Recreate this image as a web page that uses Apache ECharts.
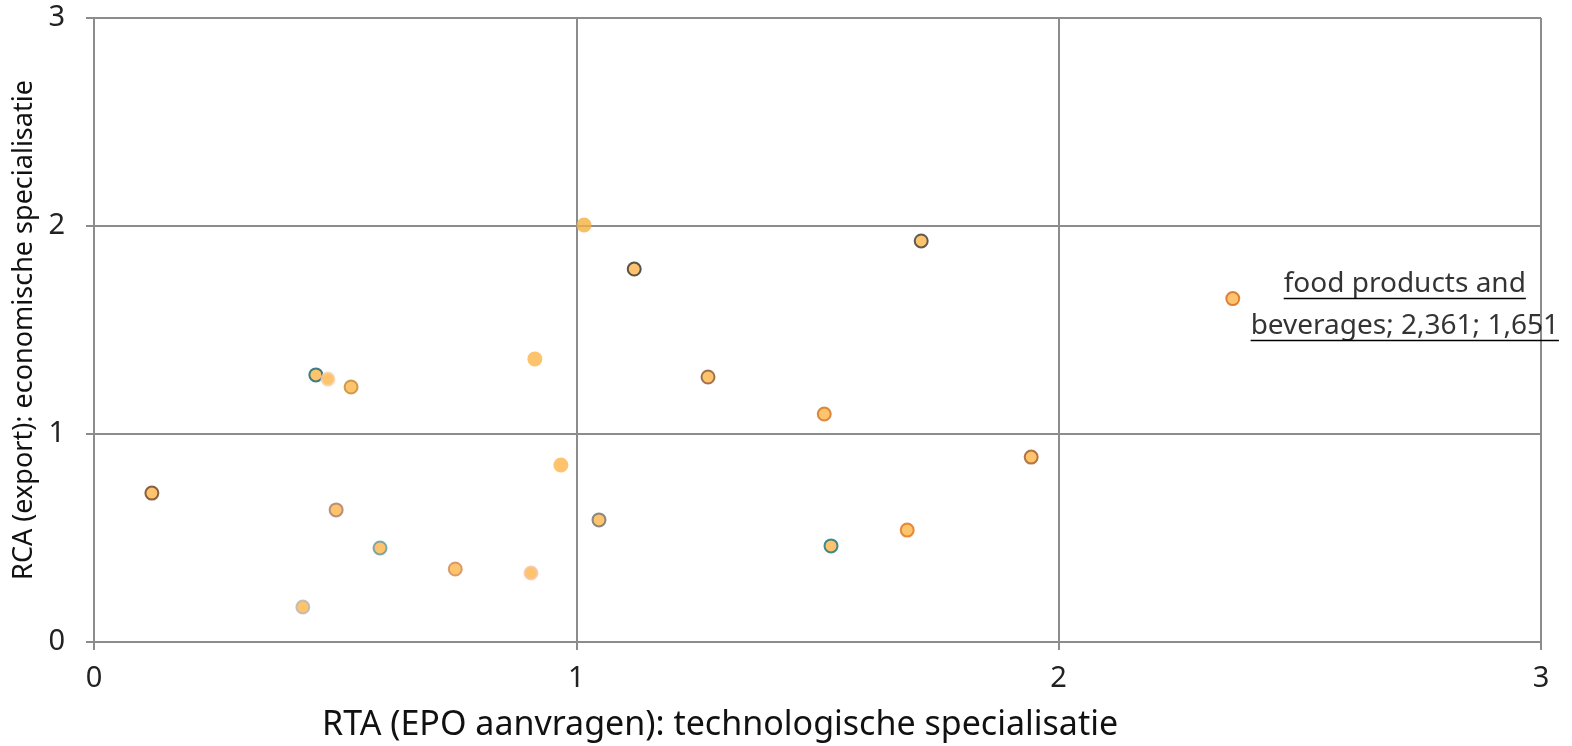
<!DOCTYPE html>
<html>
<head>
<meta charset="utf-8">
<script src="https://cdn.jsdelivr.net/npm/echarts@6/dist/echarts.min.js"></script>
<style>html,body{margin:0;padding:0;background:#fff}#c{width:1572px;height:746px}</style>
</head>
<body>
<div id="c"></div>
<script>
// Data
const xValues = [0.120, 0.460, 0.485, 0.533, 0.502, 0.593, 0.433, 0.749, 0.906, 1.016, 1.120, 0.914, 0.968, 1.047, 1.273, 1.514, 1.715, 1.528, 1.686, 1.943, 2.361];
const yValues = [0.716, 1.284, 1.264, 1.226, 0.635, 0.452, 0.168, 0.351, 0.332, 2.005, 1.793, 1.361, 0.851, 0.587, 1.274, 1.096, 1.928, 0.462, 0.538, 0.889, 1.651];
const pointNames = ['', '', '', '', '', '', '', '', '', '', '', '', '', '', '', '', '', '', '', '', 'food products and beverages'];
const axisTicks = [0, 1, 2, 3];
const xTitle = 'RTA (EPO aanvragen): technologische specialisatie';
const yTitle = 'RCA (export): economische specialisatie';

// Styles
const edgeColors = ['#6b3f22', '#0f6173', '#f9cfae', '#c28a2c', '#a77b70', '#5e97a0', '#b5b5b5', '#d08a55', '#f8c3aa', null, '#2e2e2e', null, null, '#6f6f6f', '#8a5535', '#d0711e', '#383838', '#13707c', '#e27015', '#a05a22', '#d4691a'];
const fillColors = xValues.map((v, i) => i === 9 ? '#F2B040' : '#FDB548');

const FONT = 'Noto Sans';
const LABEL_SIZE = 28;
const chart = echarts.init(document.getElementById('c'), null, {renderer: 'canvas'});

function fmt(v) { return v.toFixed(3).replace('.', ','); }

const data = xValues.map((x, i) => {
  const bordered = !!edgeColors[i];
  const d = {
    value: [x, yValues[i]],
    name: pointNames[i],
    symbolSize: bordered ? 13 : 15,
    itemStyle: {
      color: fillColors[i],
      borderColor: edgeColors[i] || fillColors[i],
      borderWidth: bordered ? 2 : 0
    }
  };
  if (pointNames[i]) {
    d.label = {
      show: true,
      position: 'inside',
      offset: [172, 6],
      align: 'center',
      verticalAlign: 'middle',
      formatter: () => 'food products and\nbeverages; ' + fmt(x) + '; ' + fmt(yValues[i]),
      fontFamily: FONT,
      fontSize: LABEL_SIZE,
      lineHeight: 42,
      color: '#000'
    };
  }
  return d;
});

const gridLine = {show: true, lineStyle: {color: '#8c8c8c', width: 2}};
chart.setOption({
  animation: false,
  backgroundColor: '#fff',
  grid: {left: 94, right: 31, top: 18, bottom: 104, containLabel: false},
  xAxis: {
    type: 'value', min: 0, max: 3, interval: 1,
    axisLine: {show: true, lineStyle: {color: '#8c8c8c', width: 2}},
    axisTick: {show: true, length: 8, lineStyle: {color: '#8c8c8c', width: 2}},
    splitLine: gridLine,
    axisLabel: {fontFamily: FONT, fontSize: 29, color: '#222', margin: 22, formatter: v => axisTicks.includes(v) ? String(v) : ''}
  },
  yAxis: {
    type: 'value', min: 0, max: 3, interval: 1,
    axisLine: {show: true, lineStyle: {color: '#8c8c8c', width: 2}},
    axisTick: {show: true, length: 8, lineStyle: {color: '#8c8c8c', width: 2}},
    splitLine: gridLine,
    axisLabel: {fontFamily: FONT, fontSize: 29, color: '#222', margin: 29, formatter: v => axisTicks.includes(v) ? String(v) : ''},
    name: yTitle,
    nameLocation: 'middle',
    nameGap: 50,
    nameTextStyle: {fontFamily: FONT, fontSize: 27, color: '#111'}
  },
  graphic: [{
    type: 'text', left: 322, top: 708,
    style: {text: xTitle, font: '34px "' + FONT + '"', fill: '#111'}
  }],
  series: [{
    type: 'scatter',
    symbol: 'circle',
    data: data,
    z: 3
  }]
});

// underline the data label
(function () {
  const i = pointNames.findIndex(n => n);
  const p = chart.convertToPixel({gridIndex: 0}, [xValues[i], yValues[i]]);
  const ctx = document.createElement('canvas').getContext('2d');
  ctx.font = LABEL_SIZE + 'px "' + FONT + '"';
  const lines = ['food products and', 'beverages; ' + fmt(xValues[i]) + '; ' + fmt(yValues[i])];
  const cx = p[0] + 172, cy = p[1] + 6;
  const els = lines.map((t, k) => {
    const w = ctx.measureText(t).width;
    const y = Math.round(cy + (k === 0 ? -21 : 21) + 14) + 0.5;
    return {type: 'line', shape: {x1: cx - w / 2, y1: y, x2: cx + w / 2, y2: y}, style: {stroke: '#000', lineWidth: 1.5}, z: 10};
  });
  const g = chart.getOption().graphic[0].elements;
  chart.setOption({graphic: g.concat(els)}, {replaceMerge: ['graphic']});
})();
</script>
</body>
</html>
